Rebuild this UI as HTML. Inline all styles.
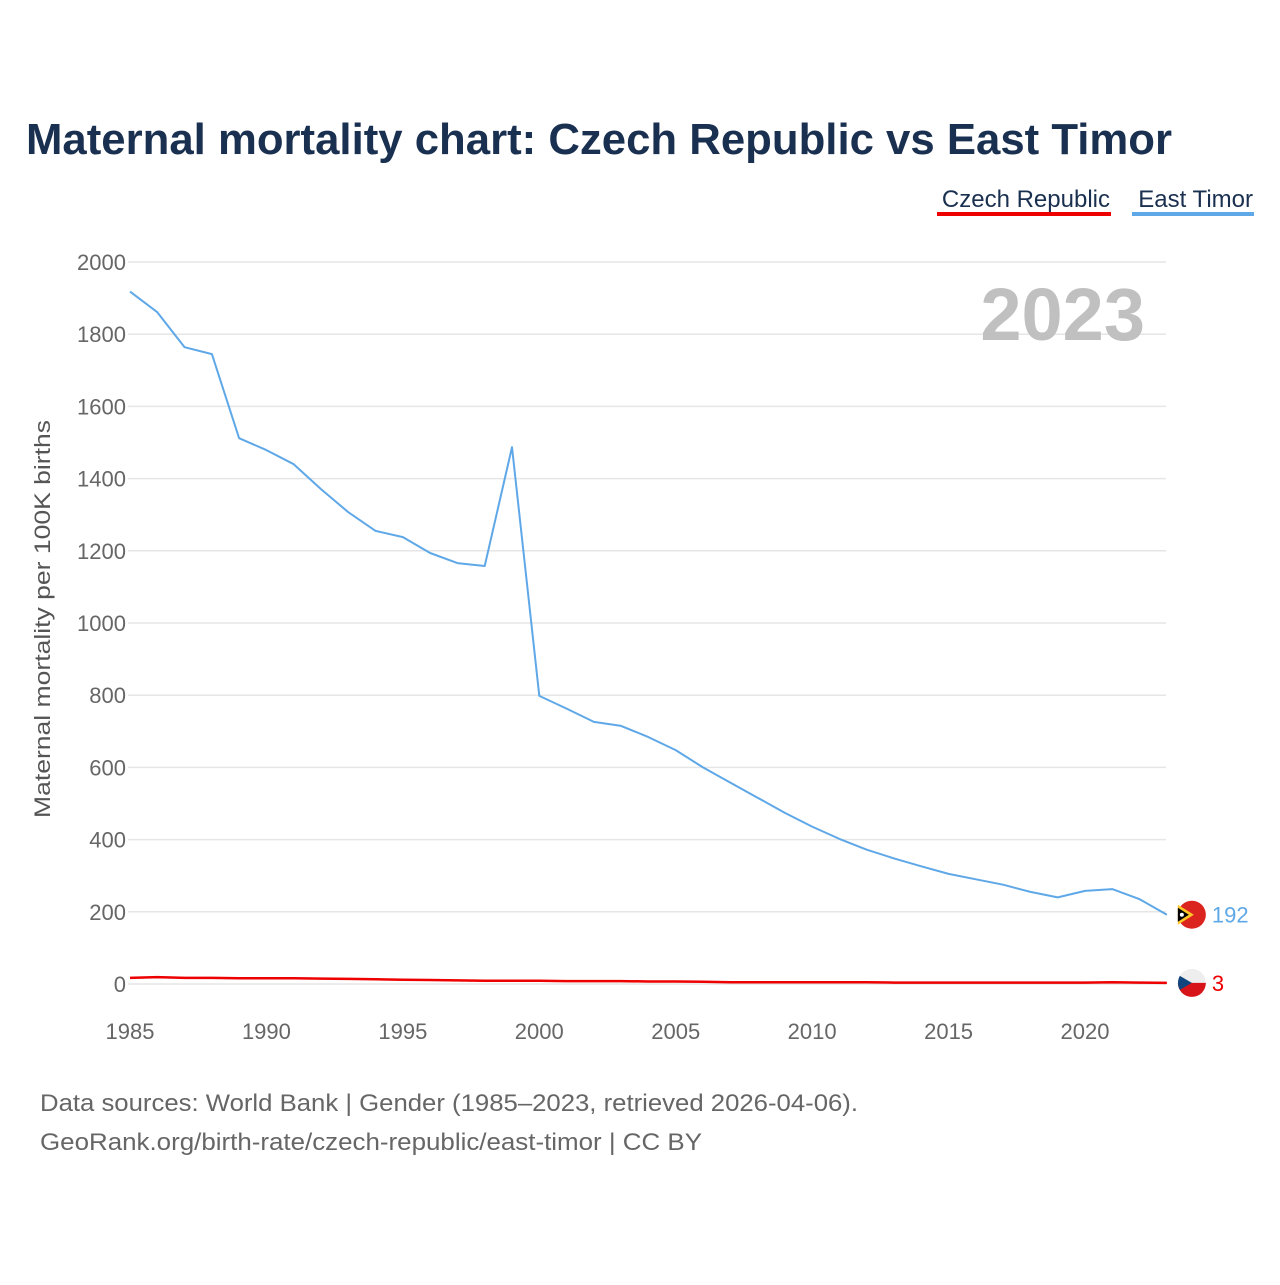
<!DOCTYPE html>
<html><head><meta charset="utf-8">
<style>
body{margin:0;background:#fff;font-family:"Liberation Sans",sans-serif;}
svg text{font-family:"Liberation Sans",sans-serif;}
</style></head>
<body>
<svg width="1280" height="1280" viewBox="0 0 1280 1280">
<text x="26" y="154" font-size="44" font-weight="bold" fill="#1a3050" textLength="1146" lengthAdjust="spacingAndGlyphs">Maternal mortality chart: Czech Republic vs East Timor</text>
<g>
<text x="1110" y="207" font-size="24" fill="#1a3050" text-anchor="end">Czech Republic</text>
<rect x="937" y="212" width="174" height="4" fill="#ee0000"/>
<text x="1253" y="207" font-size="24" fill="#1a3050" text-anchor="end">East Timor</text>
<rect x="1132" y="212" width="122" height="4" fill="#5fa8e8"/>
</g>
<g id="grid"></g>
<g id="yt"></g>
<g id="xt"></g>
<text x="1145" y="340" font-size="74" font-weight="bold" fill="#c0c0c0" text-anchor="end">2023</text>
<text transform="translate(50,619) rotate(-90)" font-size="22" fill="#555" text-anchor="middle" textLength="398" lengthAdjust="spacingAndGlyphs">Maternal mortality per 100K births</text>
<g id="series"></g>
<text x="40" y="1111" font-size="24" fill="#666" textLength="818" lengthAdjust="spacingAndGlyphs">Data sources: World Bank | Gender (1985–2023, retrieved 2026-04-06).</text>
<text x="40" y="1150" font-size="24" fill="#666" textLength="662" lengthAdjust="spacingAndGlyphs">GeoRank.org/birth-rate/czech-republic/east-timor | CC BY</text>
</svg>
<script>
const years=[];for(let y=1985;y<=2023;y++)years.push(y);
const eastTimor=[1918,1861,1764,1745,1512,1479,1440,1371,1307,1255,1238,1194,1166,1158,1487,798,763,726,715,684,648,600,558,516,474,436,402,372,348,326,305,290,275,255,240,258,263,235,192];
const czech=[17,19,17,17,16,16,16,15,14,13,12,11,10,9,9,9,8,8,8,7,7,6,5,5,5,5,5,5,4,4,4,4,4,4,4,4,5,4,3];
const yTicks=[0,200,400,600,800,1000,1200,1400,1600,1800,2000];
const xTicks=[1985,1990,1995,2000,2005,2010,2015,2020];
const NS="http://www.w3.org/2000/svg";
const X=v=>130+(v-1985)*(1085-130)/35;
const Y=v=>984-v*(984-262)/2000;
function mk(t,a,p){const e=document.createElementNS(NS,t);for(const k in a)e.setAttribute(k,a[k]);p.appendChild(e);return e;}
const grid=document.getElementById('grid'),yt=document.getElementById('yt'),xt=document.getElementById('xt'),sr=document.getElementById('series');
yTicks.forEach(v=>{
 const l=mk('line',{x1:128,x2:1166,y1:Y(v),y2:Y(v),stroke:'#e6e6e6','stroke-width':1.5},grid);
 
 
 const t=mk('text',{x:126,y:Y(v)+8,'font-size':22,fill:'#666','text-anchor':'end'},yt);t.textContent=v;
 
 
});
xTicks.forEach(v=>{
 const t=mk('text',{x:X(v),y:1039,'font-size':22,fill:'#666','text-anchor':'middle'},xt);t.textContent=v;
 
 
});
function line(data,color,name,w){
 const p=mk('path',{d:data.map((v,i)=>(i?'L':'M')+X(years[i]).toFixed(1)+','+Y(v).toFixed(1)).join(''),fill:'none',stroke:color,'stroke-width':w,'stroke-linejoin':'round'},sr);
 
 
}
line(eastTimor,'#5fa8e8','east-timor-line',2);
line(czech,'#ee0000','czech-republic-line',2.5);
const lx=X(2023)+25;
const etY=Y(eastTimor[eastTimor.length-1]), czY=Y(czech[czech.length-1]);
let g=mk('g',{},sr);


mk('circle',{cx:lx,cy:etY,r:14,fill:'#dc241f'},g);
mk('path',{d:`M${lx-14},${etY-10} L${lx+2},${etY} L${lx-14},${etY+10}Z`,fill:'#ffc726'},g);
mk('path',{d:`M${lx-14},${etY-7} L${lx-3},${etY} L${lx-14},${etY+7}Z`,fill:'#000'},g);
mk('circle',{cx:lx-10,cy:etY,r:2,fill:'#fff'},g);
let t=mk('text',{x:lx+20,y:etY+8,'font-size':22,fill:'#5fa8e8'},sr);t.textContent=eastTimor[eastTimor.length-1];


g=mk('g',{},sr);


mk('circle',{cx:lx,cy:czY,r:14,fill:'#eee'},g);
mk('path',{d:`M${lx-14},${czY} L${lx+14},${czY} A14,14 0 0 1 ${lx-14},${czY}Z`,fill:'#d7141a'},g);
mk('path',{d:`M${lx-12},${czY-7} L${lx},${czY} L${lx-12},${czY+7} A14,14 0 0 1 ${lx-12},${czY-7}Z`,fill:'#11457e'},g);
t=mk('text',{x:lx+20,y:czY+8,'font-size':22,fill:'#ee0000'},sr);t.textContent=czech[czech.length-1];


</script>
</body></html>
